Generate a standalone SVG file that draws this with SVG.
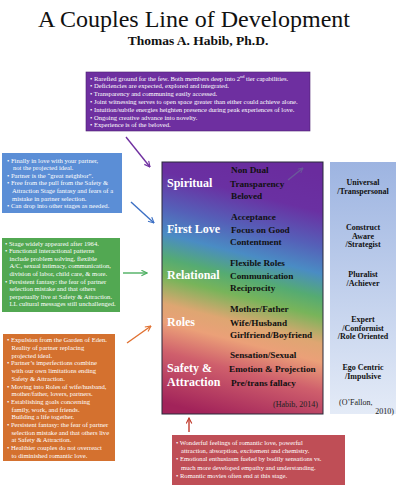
<svg xmlns="http://www.w3.org/2000/svg" width="400" height="490" viewBox="0 0 400 490">
<style>
.t{font-family:"Liberation Serif",serif}
.w{font-family:"Liberation Serif",serif;font-size:6.6px;fill:#fff}
.lab{font-family:"Liberation Serif",serif;font-size:12px;font-weight:bold;fill:#fff}
.trm{font-family:"Liberation Serif",serif;font-size:9.2px;font-weight:bold;fill:#111}
.rc{font-family:"Liberation Serif",serif;font-size:8px;font-weight:bold;fill:#111;text-anchor:middle}
.ref{font-family:"Liberation Serif",serif;font-size:8px;fill:#222}
.ar{fill:none;stroke-width:1.4}
</style>
<defs>
<linearGradient id="rb" gradientUnits="userSpaceOnUse" x1="272" y1="162" x2="208" y2="414">
<stop offset="0" stop-color="#6a2c9e"/>
<stop offset="0.14" stop-color="#6a30a2"/>
<stop offset="0.27" stop-color="#5560b8"/>
<stop offset="0.37" stop-color="#4a8cc4"/>
<stop offset="0.46" stop-color="#55ab72"/>
<stop offset="0.53" stop-color="#78b45a"/>
<stop offset="0.63" stop-color="#dea672"/>
<stop offset="0.70" stop-color="#eba078"/>
<stop offset="0.81" stop-color="#cf5f6c"/>
<stop offset="1" stop-color="#a2235a"/>
</linearGradient>
<linearGradient id="bl" x1="0" y1="0" x2="0" y2="1">
<stop offset="0" stop-color="#9db4e1"/>
<stop offset="1" stop-color="#e4ebf7"/>
</linearGradient>
<marker id="mp" viewBox="0 0 10 10" refX="9" refY="5" markerWidth="7" markerHeight="7" orient="auto" markerUnits="userSpaceOnUse"><path d="M1,1 L9,5 L1,9" fill="none" stroke="#7030a0" stroke-width="1.6"/></marker>
<marker id="mb" viewBox="0 0 10 10" refX="9" refY="5" markerWidth="7" markerHeight="7" orient="auto" markerUnits="userSpaceOnUse"><path d="M1,1 L9,5 L1,9" fill="none" stroke="#3b6fc4" stroke-width="1.6"/></marker>
<marker id="mg" viewBox="0 0 10 10" refX="9" refY="5" markerWidth="7" markerHeight="7" orient="auto" markerUnits="userSpaceOnUse"><path d="M1,1 L9,5 L1,9" fill="none" stroke="#4caf60" stroke-width="1.6"/></marker>
<marker id="mo" viewBox="0 0 10 10" refX="9" refY="5" markerWidth="7" markerHeight="7" orient="auto" markerUnits="userSpaceOnUse"><path d="M1,1 L9,5 L1,9" fill="none" stroke="#e07030" stroke-width="1.6"/></marker>
<marker id="mr" viewBox="0 0 10 10" refX="9" refY="5" markerWidth="7" markerHeight="7" orient="auto" markerUnits="userSpaceOnUse"><path d="M1,1 L9,5 L1,9" fill="none" stroke="#c0392b" stroke-width="1.6"/></marker>
<marker id="mx" viewBox="0 0 10 10" refX="9" refY="5" markerWidth="6" markerHeight="6" orient="auto" markerUnits="userSpaceOnUse"><path d="M1,1 L9,5 L1,9" fill="none" stroke="#6a5a9a" stroke-width="1.6"/></marker>
</defs>
<rect width="400" height="490" fill="#fff"/>
<g id="title">
<text x="194" y="27" style="font-family:'Liberation Serif',serif;font-size:24px" text-anchor="middle" fill="#111">A Couples Line of Development</text>
<text class="t" x="198" y="45" font-size="13.5" font-weight="bold" text-anchor="middle" fill="#111">Thomas A. Habib, Ph.D.</text>
</g>
<g id="spiritual-note">
<rect x="86" y="72" width="224" height="59" fill="#6e2fa0" stroke="#4a1f70" stroke-width="0.6"/>
<text class="w"><tspan x="90" y="80.5">• Rarefied ground for the few. Both members deep into 2<tspan font-size="4.4" dy="-2.5">nd</tspan><tspan dy="2.5"> tier capabilities.</tspan></tspan>
<tspan x="90" y="88.3">• Deficiencies are expected, explored and integrated.</tspan>
<tspan x="90" y="96.1">• Transparency and communing easily accessed.</tspan>
<tspan x="90" y="103.9">• Joint witnessing serves to open space greater than either could achieve alone.</tspan>
<tspan x="90" y="111.7">• Intuition/subtle energies heighten presence during peak experiences of love.</tspan>
<tspan x="90" y="119.5">• Ongoing creative advance into novelty.</tspan>
<tspan x="90" y="127.3">• Experience is of the beloved.</tspan></text>
</g>
<g id="firstlove-note">
<rect x="2" y="153" width="120" height="60" fill="#5b8ed6"/>
<text class="w"><tspan x="7" y="162.5">• Finally in love with your partner,</tspan>
<tspan x="13" y="170.1">not the projected ideal.</tspan>
<tspan x="7" y="177.7">• Partner is the “great neighbor”.</tspan>
<tspan x="7" y="185.3">• Free from the pull from the Safety &amp;</tspan>
<tspan x="12" y="192.9">Attraction Stage fantasy and fears of a</tspan>
<tspan x="12" y="200.5">mistake in partner selection.</tspan>
<tspan x="7" y="208.1">• Can drop into other stages as needed.</tspan></text>
</g>
<g id="relational-note">
<rect x="2" y="238" width="118" height="74" fill="#52a852"/>
<text class="w"><tspan x="5" y="245.6">• Stage widely appeared after 1964.</tspan>
<tspan x="5" y="253.2">• Functional interactional patterns</tspan>
<tspan x="9.5" y="260.8">include problem solving, flexible</tspan>
<tspan x="9.5" y="268.4">A/C, sexual intimacy, communication,</tspan>
<tspan x="9.5" y="276">division of labor, child care, &amp; more.</tspan>
<tspan x="5" y="283.6">• Persistent fantasy: the fear of partner</tspan>
<tspan x="9.5" y="291.2">selection mistake and that others</tspan>
<tspan x="9.5" y="298.8">perpetually live at Safety &amp; Attraction.</tspan>
<tspan x="9.5" y="306.4">LL cultural messages still unchallenged.</tspan></text>
</g>
<g id="roles-note">
<rect x="3" y="334" width="112" height="127" fill="#d4712f"/>
<text class="w"><tspan x="7" y="342.3">• Expulsion from the Garden of Eden.</tspan>
<tspan x="11.5" y="350">Reality of partner replacing</tspan>
<tspan x="11.5" y="357.7">projected ideal.</tspan>
<tspan x="7" y="365.4">• Partner’s imperfections combine</tspan>
<tspan x="11.5" y="373.1">with our own limitations ending</tspan>
<tspan x="11.5" y="380.8">Safety &amp; Attraction.</tspan>
<tspan x="7" y="388.5">• Moving into Roles of wife/husband,</tspan>
<tspan x="11.5" y="396.2">mother/father, lovers, partners.</tspan>
<tspan x="7" y="403.9">• Establishing goals concerning</tspan>
<tspan x="11.5" y="411.6">family, work, and friends.</tspan>
<tspan x="11.5" y="419.3">Building a life together.</tspan>
<tspan x="7" y="427">• Persistent fantasy: the fear of partner</tspan>
<tspan x="11.5" y="434.7">selection mistake and that others live</tspan>
<tspan x="11.5" y="442.4">at Safety &amp; Attraction.</tspan>
<tspan x="7" y="450.1">• Healthier couples do not overreact</tspan>
<tspan x="11.5" y="457.8">to diminished romantic love.</tspan></text>
</g>
<g id="safety-note">
<rect x="172" y="435" width="173" height="50" fill="#bf4e56"/>
<text class="w"><tspan x="176" y="444.5">• Wonderful feelings of romantic love, powerful</tspan>
<tspan x="181" y="452.9">attraction, absorption,  excitement and  chemistry.</tspan>
<tspan x="176" y="461.3">• Emotional enthusiasm fueled by bodily sensations vs.</tspan>
<tspan x="181" y="469.7">much more developed empathy and understanding.</tspan>
<tspan x="176" y="478.1">• Romantic movies often end at this stage.</tspan></text>
</g>
<g id="stages">
<rect x="162" y="162" width="161" height="252" fill="url(#rb)" stroke="#2a2a3a" stroke-width="1"/>
<text class="lab" x="167" y="187">Spiritual</text>
<text class="lab" x="167" y="233">First Love</text>
<text class="lab" x="167" y="279">Relational</text>
<text class="lab" x="167" y="326">Roles</text>
<text class="lab" x="167" y="372">Safety &amp;</text>
<text class="lab" x="167" y="386">Attraction</text>
<text class="trm"><tspan x="231" y="173">Non Dual</tspan><tspan x="230" y="187">Transparency</tspan><tspan x="231" y="198.5">Beloved</tspan></text>
<text class="trm"><tspan x="231" y="220">Acceptance</tspan><tspan x="231" y="232.5">Focus on Good</tspan><tspan x="230" y="245">Contentment</tspan></text>
<text class="trm"><tspan x="230" y="266">Flexible Roles</tspan><tspan x="230" y="279">Communication</tspan><tspan x="230" y="291">Reciprocity</tspan></text>
<text class="trm"><tspan x="230" y="312">Mother/Father</tspan><tspan x="230" y="325.5">Wife/Husband</tspan><tspan x="230" y="337.5">Girlfriend/Boyfriend</tspan></text>
<text class="trm"><tspan x="230" y="358">Sensation/Sexual</tspan><tspan x="229" y="371.5">Emotion &amp; Projection</tspan><tspan x="231" y="386">Pre/trans fallacy</tspan></text>
<text class="ref" x="318" y="407" text-anchor="end">(Habib, 2014)</text>
</g>
<g id="ofallon">
<rect x="330" y="162" width="66" height="252" fill="url(#bl)"/>
<text class="rc"><tspan x="363" y="185">Universal</tspan><tspan x="363" y="193.5">/Transpersonal</tspan></text>
<text class="rc"><tspan x="363" y="230">Construct</tspan><tspan x="363" y="238.5">Aware</tspan><tspan x="363" y="247">/Strategist</tspan></text>
<text class="rc"><tspan x="363" y="277">Pluralist</tspan><tspan x="363" y="285.5">/Achiever</tspan></text>
<text class="rc"><tspan x="363" y="322">Expert</tspan><tspan x="363" y="330.5">/Conformist</tspan><tspan x="363" y="339">/Role Oriented</tspan></text>
<text class="rc"><tspan x="363" y="370">Ego Centric</tspan><tspan x="363" y="378.5">/Impulsive</tspan></text>
<text class="ref"><tspan x="339" y="405">(O’Fallon,</tspan><tspan x="394" y="414" text-anchor="end">2010)</tspan></text>
</g>
<g id="connectors">
<line class="ar" x1="126" y1="137" x2="150" y2="167" stroke="#7030a0" marker-end="url(#mp)"/>
<line class="ar" x1="131" y1="202" x2="154" y2="223" stroke="#3b6fc4" marker-end="url(#mb)"/>
<line class="ar" x1="123" y1="273" x2="147" y2="273" stroke="#4caf60" marker-end="url(#mg)"/>
<line class="ar" x1="127" y1="343" x2="151" y2="326" stroke="#e07030" marker-end="url(#mo)"/>
<line class="ar" x1="189" y1="432" x2="189" y2="418" stroke="#c0392b" marker-end="url(#mr)"/>
<line class="ar" x1="288" y1="180" x2="303" y2="168" stroke="#6a5a9a" stroke-width="1" marker-end="url(#mx)"/>
</g>
</svg>
